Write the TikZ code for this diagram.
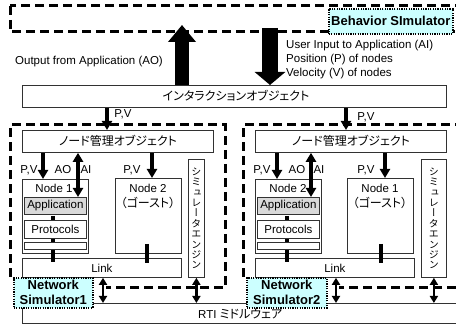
\documentclass[tikz,border=0pt]{standalone}
\usepackage{fontspec}
\setmainfont{Liberation Sans}
\newfontfamily\jp{Noto Sans CJK JP}[RawFeature=+palt]
\newfontfamily\jpv{Noto Sans CJK JP}[RawFeature=+vert]
\usetikzlibrary{arrows.meta}
\definecolor{simcyan}{RGB}{204,255,255}
\definecolor{appgray}{RGB}{217,217,217}
\definecolor{edge}{RGB}{50,50,50}
\tikzset{
  blk/.style={draw=edge, line width=0.8pt, fill=white, inner sep=0pt, anchor=north west},
  app/.style={blk, fill=appgray},
  simlabel/.style={draw=black, line width=1.6pt, dash pattern=on 1.2pt off 1.2pt,
    fill=simcyan, inner sep=0pt, anchor=north west, align=center,
    font=\fontsize{13}{15}\selectfont\bfseries},
  region/.style={draw=black, line width=3pt, dash pattern=on 9pt off 5pt},
  txt/.style={inner sep=0pt, font=\fontsize{11.5}{14}\selectfont},
  jtxt/.style={inner sep=0pt, font=\fontsize{12}{14}\selectfont\jp},
  vtxt/.style={inner sep=0pt, align=center, font=\fontsize{10}{10.4}\selectfont\jpv},
  pv/.style={line width=3.2pt, -{Triangle[width=10pt,length=9pt]}},
  twoway/.style={line width=3.2pt, {Triangle[width=10pt,length=9pt]}-{Triangle[width=10pt,length=9pt]}},
  rtiarrow/.style={line width=2.4pt, {Triangle[width=8pt,length=7pt]}-{Triangle[width=8pt,length=7pt]}},
  wire/.style={line width=3.2pt},
  fatup/.style={line width=14pt, -{Triangle[width=27pt,length=17pt]}},
  fatdown/.style={line width=16pt, -{Triangle[width=30pt,length=13pt]}},
}
\begin{document}
\begin{tikzpicture}[x=1pt,y=-1pt]
\clip (0,0) rectangle (456,331);

% dashed frames: behaviour simulator and the two simulator hosts
\draw[region] (10,6) rectangle (470,32);
\draw[region] (10,277) -- (10,125) -- (225,125) -- (225,288) -- (106,288);
\draw[region] (243,277) -- (243,125) -- (470,125) (470,288) -- (339,288);

% interaction object and middleware
\node[blk, minimum width=424pt, minimum height=22pt] (inter) at (22,85) {};
\node[jtxt] (intert) at (236,96) {インタラクションオブジェクト};
\node[blk, minimum width=448pt, minimum height=20pt] (rti) at (22,303) {};
\node[txt, anchor=west] (rtit) at (198,314) {RTI {\jp\fontsize{12}{14}\selectfont ミドルウェア}};

% ---- left host ----
\node[blk, minimum width=191pt, minimum height=22pt] (mgrL) at (22,130) {};
\node[jtxt] (mgrLt) at (118,141) {ノード管理オブジェクト};
\node[blk, minimum width=66pt, minimum height=74pt] (nodeAL) at (22,179) {};
\node[blk, minimum width=66pt, minimum height=75pt] (nodeBL) at (115,178) {};
\node[blk, minimum width=159pt, minimum height=19pt] (linkL) at (22,258) {};
\node[blk, minimum width=16pt, minimum height=118pt] (engL) at (188,159) {};
\node[vtxt] (engLt) at (engL.center) {シ\\ミ\\ュ\\レ\\ー\\タ\\エ\\ン\\ジ\\ン};

\coordinate (wA) at (53,0);
\coordinate (wB) at (147,0);
\draw[wire] (nodeAL.south -| wA) ++(0,-38) -- (linkL.north -| wA) -- ++(0,4);
\draw[wire] (nodeBL.south -| wB) ++(0,-10) -- (linkL.north -| wB) -- ++(0,5);

\node[app, minimum width=62pt, minimum height=17pt] (appL) at (24,197) {};
\node[txt] (appLt) at (appL.center) {Application};
\node[blk, minimum width=62pt, minimum height=18pt] (protoL) at (24,220) {};
\node[txt] (protoLt) at (protoL.center) {Protocols};
\node[blk, minimum width=62pt, minimum height=7pt] (smallL) at (24,242) {};

\node[txt] (nodeALt) at (54,188) {Node 1};
\node[txt] (nodeBLt) at (148,188) {Node 2};
\node[jtxt] (nodeBLg) at (148,203) {（ゴースト）};
\node[txt] (linkLt) at (linkL.center) {Link};

\coordinate (xa) at (107,0);
\coordinate (xb) at (43,0);
\coordinate (xc) at (78,0);
\coordinate (xd) at (152,0);
\draw[pv] (inter.south -| xa) -- (mgrL.north -| xa);
\draw[pv] (mgrL.south -| xb) -- (nodeAL.north -| xb);
\draw[twoway] (mgrL.south -| xc) -- (appL.north -| xc);
\draw[pv] (mgrL.south -| xd) -- (nodeBL.north -| xd);

\node[txt] (pv0L) at (123,114) {P,V};
\node[txt] (pv1L) at (29,170) {P,V};
\node[txt] (aoL) at (63,170) {AO};
\node[txt] (aiL) at (86,170) {AI};
\node[txt] (pv2L) at (132,170) {P,V};

\node[simlabel, minimum width=79pt, minimum height=30pt] (ns1) at (13,277) {Network\\Simulator1};
\coordinate (xe) at (103,0);
\draw[rtiarrow] (linkL.south -| xe) -- (rti.north -| xe);
\draw[rtiarrow] (engL.south) -- (rti.north -| engL.south);

% ---- right host ----
\node[blk, minimum width=191pt, minimum height=22pt] (mgrR) at (255,130) {};
\node[jtxt] (mgrRt) at (351,141) {ノード管理オブジェクト};
\node[blk, minimum width=66pt, minimum height=74pt] (nodeAR) at (255,179) {};
\node[blk, minimum width=66pt, minimum height=75pt] (nodeBR) at (347,178) {};
\node[blk, minimum width=159pt, minimum height=19pt] (linkR) at (255,258) {};
\node[blk, minimum width=25pt, minimum height=118pt] (engR) at (421,159) {};
\node[vtxt] (engRt) at (engR.center) {シ\\ミ\\ュ\\レ\\ー\\タ\\エ\\ン\\ジ\\ン};

\coordinate (wC) at (287,0);
\coordinate (wD) at (381,0);
\draw[wire] (nodeAR.south -| wC) ++(0,-38) -- (linkR.north -| wC) -- ++(0,4);
\draw[wire] (nodeBR.south -| wD) ++(0,-10) -- (linkR.north -| wD) -- ++(0,5);

\node[app, minimum width=62pt, minimum height=17pt] (appR) at (257,197) {};
\node[txt] (appRt) at (appR.center) {Application};
\node[blk, minimum width=62pt, minimum height=18pt] (protoR) at (257,220) {};
\node[txt] (protoRt) at (protoR.center) {Protocols};
\node[blk, minimum width=62pt, minimum height=7pt] (smallR) at (257,242) {};

\node[txt] (nodeARt) at (288,188) {Node 2};
\node[txt] (nodeBRt) at (380,188) {Node 1};
\node[jtxt] (nodeBRg) at (380,203) {（ゴースト）};
\node[txt] (linkRt) at (linkR.center) {Link};

\coordinate (xf) at (346,0);
\coordinate (xg) at (277,0);
\coordinate (xh) at (311,0);
\coordinate (xi) at (385,0);
\draw[pv] (inter.south -| xf) -- (mgrR.north -| xf);
\draw[pv] (mgrR.south -| xg) -- (nodeAR.north -| xg);
\draw[twoway] (mgrR.south -| xh) -- (appR.north -| xh);
\draw[pv] (mgrR.south -| xi) -- (nodeBR.north -| xi);

\node[txt] (pv0R) at (366,117) {P,V};
\node[txt] (pv1R) at (262,170) {P,V};
\node[txt] (aoR) at (297,170) {AO};
\node[txt] (aiR) at (319,170) {AI};
\node[txt] (pv2R) at (366,170) {P,V};

\node[simlabel, minimum width=80pt, minimum height=30pt] (ns2) at (246,277) {Network\\Simulator2};
\coordinate (xj) at (336,0);
\draw[rtiarrow] (linkR.south -| xj) -- (rti.north -| xj);
\draw[rtiarrow] (engR.south) -- (rti.north -| engR.south);

% ---- behaviour simulator link ----
\node[simlabel, minimum width=124pt, minimum height=25pt] (bsim) at (328,8) {Behavior SImulator};
\coordinate (aoTip) at (182,25);
\coordinate (aiTop) at (270,28);
\draw[fatup] (inter.north -| aoTip) -- (aoTip);
\draw[fatdown] (aiTop) -- (inter.north -| aiTop);
\node[txt, anchor=west] (aotext) at (15,62) {Output from Application (AO)};
\node[txt, anchor=west, align=left] (aitext) at (286,60)
  {User Input to Application (AI)\\Position (P) of nodes\\Velocity (V) of nodes};
\end{tikzpicture}
\end{document}
